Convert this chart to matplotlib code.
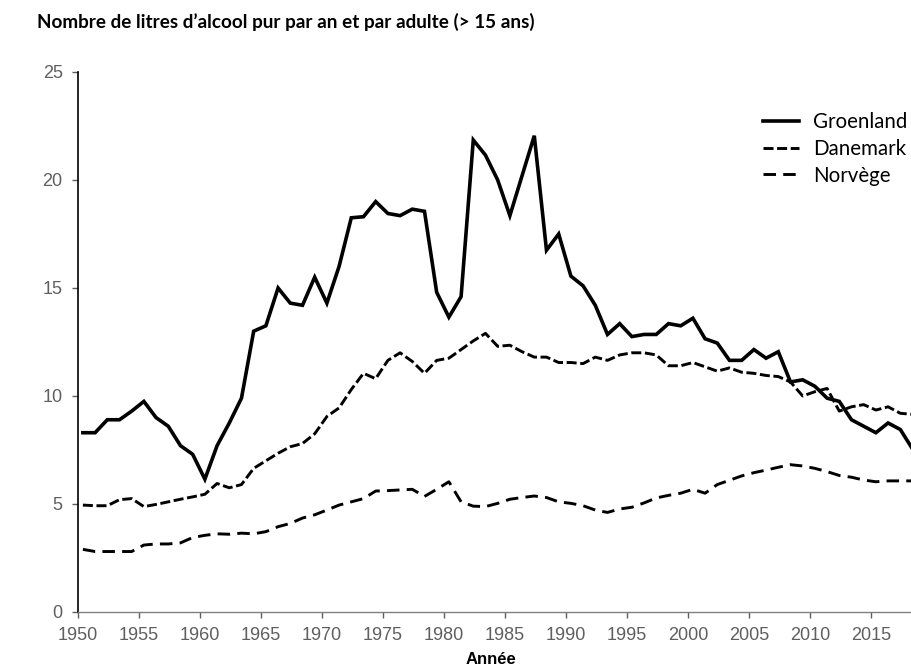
import numpy as np
import matplotlib
matplotlib.use("Agg")
import matplotlib.pyplot as plt

# Données (litres d'alcool pur par adulte)
annees = np.arange(1950, 2019)

groenland = [8.3, 8.3, 8.9, 8.9, 9.3, 9.75, 9.0, 8.6, 7.7, 7.3,
             6.15, 7.7, 8.75, 9.9, 13.0, 13.25, 15.0, 14.3, 14.2, 15.5,
             14.3, 16.0, 18.25, 18.3, 19.0, 18.45, 18.35, 18.65, 18.55, 14.8,
             13.65, 14.6, 21.85, 21.15, 20.0, 18.35, 20.2, 22.05, 16.75, 17.5,
             15.55, 15.1, 14.2, 12.85, 13.35, 12.75, 12.85, 12.85, 13.35, 13.25,
             13.6, 12.65, 12.45, 11.65, 11.65, 12.15, 11.75, 12.05, 10.65, 10.75,
             10.45, 9.9, 9.75, 8.9, 8.6, 8.3, 8.75, 8.45, 7.55]

danemark = [4.95, 4.92, 4.92, 5.2, 5.25, 4.88, 4.98, 5.1, 5.22, 5.33,
            5.45, 5.95, 5.75, 5.9, 6.65, 7.0, 7.35, 7.65, 7.8, 8.25,
            9.05, 9.45, 10.3, 11.05, 10.8, 11.65, 12.0, 11.6, 11.05, 11.65,
            11.75, 12.15, 12.55, 12.9, 12.3, 12.35, 12.05, 11.8, 11.8, 11.55,
            11.55, 11.5, 11.8, 11.65, 11.9, 12.0, 12.0, 11.9, 11.4, 11.4,
            11.55, 11.35, 11.15, 11.3, 11.1, 11.05, 10.95, 10.9, 10.65, 10.0,
            10.2, 10.35, 9.3, 9.5, 9.6, 9.35, 9.5, 9.2, 9.15]

norvege = [2.9, 2.8, 2.8, 2.8, 2.8, 3.1, 3.15, 3.15, 3.2, 3.45,
           3.55, 3.62, 3.6, 3.65, 3.62, 3.72, 3.95, 4.1, 4.35, 4.5,
           4.72, 4.95, 5.1, 5.25, 5.6, 5.62, 5.65, 5.68, 5.35, 5.68,
           6.03, 5.1, 4.9, 4.88, 5.03, 5.22, 5.3, 5.37, 5.3, 5.1,
           5.03, 4.92, 4.72, 4.61, 4.77, 4.85, 5.05, 5.28, 5.4, 5.5,
           5.68, 5.5, 5.9, 6.1, 6.3, 6.45, 6.57, 6.7, 6.82, 6.76,
           6.65, 6.5, 6.32, 6.24, 6.11, 6.03, 6.07, 6.07, 6.07]

# décalage des points par rapport aux graduations (comme sur l'original)
decalage = 0.4

plt.rcParams["lines.scale_dashes"] = False
gris = "#5f5f5f"

fig = plt.figure(figsize=(9.12, 6.66), dpi=100)
ax = fig.add_axes([78 / 912, 54 / 666, 834 / 912, 540 / 666])

x = annees + decalage
ax.plot(x, groenland, color="black", lw=2.6, solid_joinstyle="miter", label="Groenland")
ax.plot(x, danemark, color="black", lw=2.1, dashes=(7.2, 2.6), dash_capstyle="butt", label="Danemark")
ax.plot(x, norvege, color="black", lw=2.1, dashes=(9.0, 5.2), dash_capstyle="butt", label="Norvège")

ax.set_xlim(1950, 2018.36)
ax.set_ylim(0, 25)
ax.set_xticks(np.arange(1950, 2016, 5))
ax.set_yticks(np.arange(0, 26, 5))

for side in ["top", "right"]:
    ax.spines[side].set_visible(False)
ax.spines["left"].set_color("black")
ax.spines["left"].set_linewidth(1.2)
ax.spines["bottom"].set_color("#808080")
ax.spines["bottom"].set_linewidth(1.0)

ax.tick_params(axis="both", colors=gris, labelsize=13, length=4, width=1, pad=7)
for lab in ax.get_xticklabels() + ax.get_yticklabels():
    lab.set_family(["Liberation Sans", "DejaVu Sans"])
    lab.set_color(gris)

leg = ax.legend(loc="upper left", bbox_to_anchor=(763 / 912, 1 - 112 / 666),
                bbox_transform=fig.transFigure, frameon=False, borderpad=0,
                borderaxespad=0, handlelength=1.75, handletextpad=0.7,
                labelspacing=0.33, prop={"family": "Lato", "size": 14.8})

fig.text(37 / 912, 1 - 22 / 666, "Nombre de litres d\u2019alcool pur par an et par adulte (> 15 ans)",
         fontsize=13.6, fontweight="bold", family=["Lato", "DejaVu Sans"], va="center", ha="left")
fig.text(491 / 912, 1 - 659 / 666, "Année", fontsize=12, fontweight="bold",
         family=["Liberation Sans", "DejaVu Sans"], va="center", ha="center")

fig.savefig("out.png", dpi=100)
plt.close(fig)
